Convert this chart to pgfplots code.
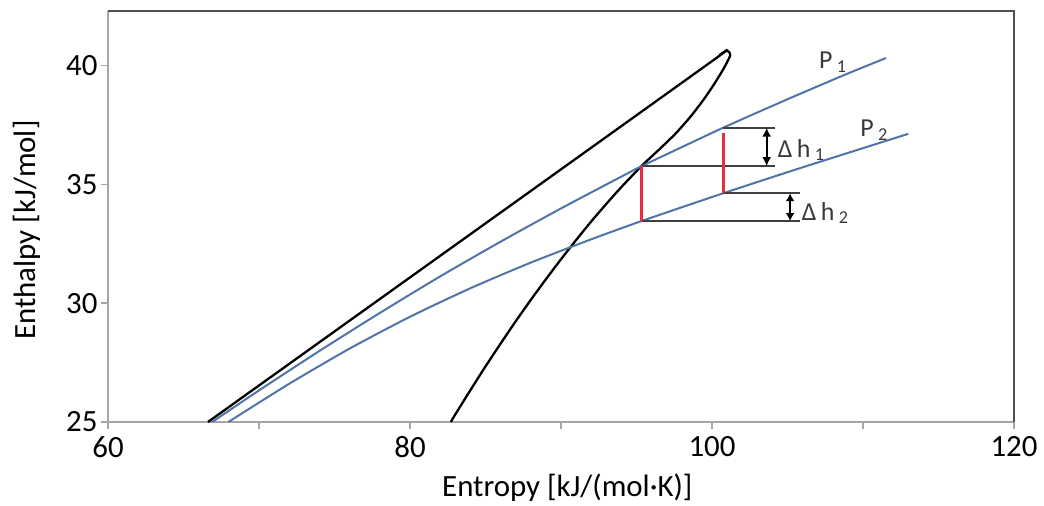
\documentclass[border=0pt]{standalone}
\usepackage{fontspec}
\setmainfont{Carlito}
\usepackage{pgfplots}
\pgfplotsset{compat=1.18}
\usetikzlibrary{arrows.meta}
\definecolor{pblue}{HTML}{4F74A8}
\definecolor{hred}{HTML}{E0303F}
\definecolor{axgray}{HTML}{A6A6A6}
\definecolor{framec}{HTML}{505050}
\definecolor{txt}{HTML}{3A3A3A}
\definecolor{hline}{HTML}{404040}
\begin{document}
\begin{tikzpicture}[x=1bp,y=1bp]
\useasboundingbox (0,0) rectangle (1044,-506);
\begin{axis}[
  name=ax,
  at={(108bp,-422bp)}, anchor=south west,
  scale only axis, width=906bp, height=411bp,
  xmin=60, xmax=120, ymin=25, ymax=42.3,
  axis lines=left,
  axis line style={-, axgray, line width=2bp},
  tick align=outside,
  major tick length=7bp, minor tick length=7bp,
  tick style={axgray, line width=1.5bp},
  xtick={60,80,100,120}, minor xtick={70,90,110},
  ytick={25,30,35,40},
  /pgf/number format/assume math mode=true,
  ticklabel style={font=\fontsize{31}{36}\selectfont, black},
  xticklabel style={yshift=-4bp},
  xlabel={Entropy [kJ/(mol·K)]},
  ylabel={Enthalpy [kJ/mol]},
  label style={font=\fontsize{31}{36}\selectfont, black},
  xlabel style={at={(axis description cs:0.507,-0.1606)}, anchor=center},
  ylabel style={at={(axis description cs:-0.0894,0.467)}, anchor=center, rotate=0},
]
% saturation dome
\addplot[black, line width=2.3bp, smooth, tension=0.4] coordinates {
 (66.62,25.0) (83.35,32.61) (100.09,40.23) (100.5,40.45) (100.85,40.6) (101.02,40.63)
 (101.15,40.56) (101.2,40.42) (101.0,40.15) (100.7,39.8) (100.2,39.28)
 (99.5,38.62) (98.6,37.87) (97.6,37.15) (96.5,36.47) (95.34,35.78)
 (94.0,34.89) (93.0,34.18) (92.0,33.44) (91.0,32.66) (90.0,31.85) (89.0,31.01)
 (88.0,30.14) (87.0,29.24) (86.0,28.30) (85.0,27.34) (84.0,26.34) (83.0,25.32)
 (82.7,25.0)
};
% isobar P1
\addplot[pblue, line width=2bp, smooth, tension=0.4] coordinates {
 (66.9,25.0) (70,26.33) (74,27.99) (78,29.59) (82,31.13) (86,32.59) (90,33.99)
 (94,35.33) (95.34,35.77) (98,36.57) (100.75,37.39) (103.4,38.14) (106,38.86)
 (109,39.67) (111.52,40.32)
};
% isobar P2
\addplot[pblue, line width=2bp, smooth, tension=0.4] coordinates {
 (67.97,25.0) (72,26.61) (76,28.09) (80,29.43) (84,30.63) (88,31.71) (92,32.69)
 (95.34,33.46) (100.75,34.63) (106,35.72) (113.0,37.13)
};
% horizontal reference lines
\addplot[hline, line width=2bp] coordinates {(100.75,37.39) (104.17,37.39)};
\addplot[hline, line width=2bp] coordinates {(95.34,35.77) (104.17,35.77)};
\addplot[hline, line width=2bp] coordinates {(100.75,34.63) (105.8,34.63)};
\addplot[hline, line width=2bp] coordinates {(95.34,33.46) (105.8,33.46)};
% red verticals
\addplot[hred, line width=2.5bp] coordinates {(95.34,35.77) (95.34,33.46)};
\addplot[hred, line width=2.5bp] coordinates {(100.75,37.18) (100.75,34.63)};
% arrows
\draw[black, line width=1.8bp, {Latex[length=9bp,width=9bp]}-{Latex[length=9bp,width=9bp]}]
  (axis cs:103.62,37.39) -- (axis cs:103.62,35.77);
\draw[black, line width=1.8bp, {Latex[length=8bp,width=9bp]}-{Latex[length=8bp,width=9bp]}]
  (axis cs:105.17,34.63) -- (axis cs:105.17,33.46);
% labels
\node[txt, font=\fontsize{26}{30}\selectfont, anchor=center] at (axis cs:108.0,40.15) {P\,\textsubscript{1}};
\node[txt, font=\fontsize{26}{30}\selectfont, anchor=center] at (axis cs:110.73,37.29) {P\,\textsubscript{2}};
\node[txt, font=\fontsize{26}{30}\selectfont, anchor=west, inner sep=0pt] at (axis cs:104.35,36.45) {Δ\,h\,\textsubscript{1}};
\node[txt, font=\fontsize{26}{30}\selectfont, anchor=west, inner sep=0pt] at (axis cs:105.94,33.8) {Δ\,h\,\textsubscript{2}};
\end{axis}
\draw[framec, line width=2bp] (ax.north west) -- (ax.north east) -- (ax.south east);
\end{tikzpicture}
\end{document}
